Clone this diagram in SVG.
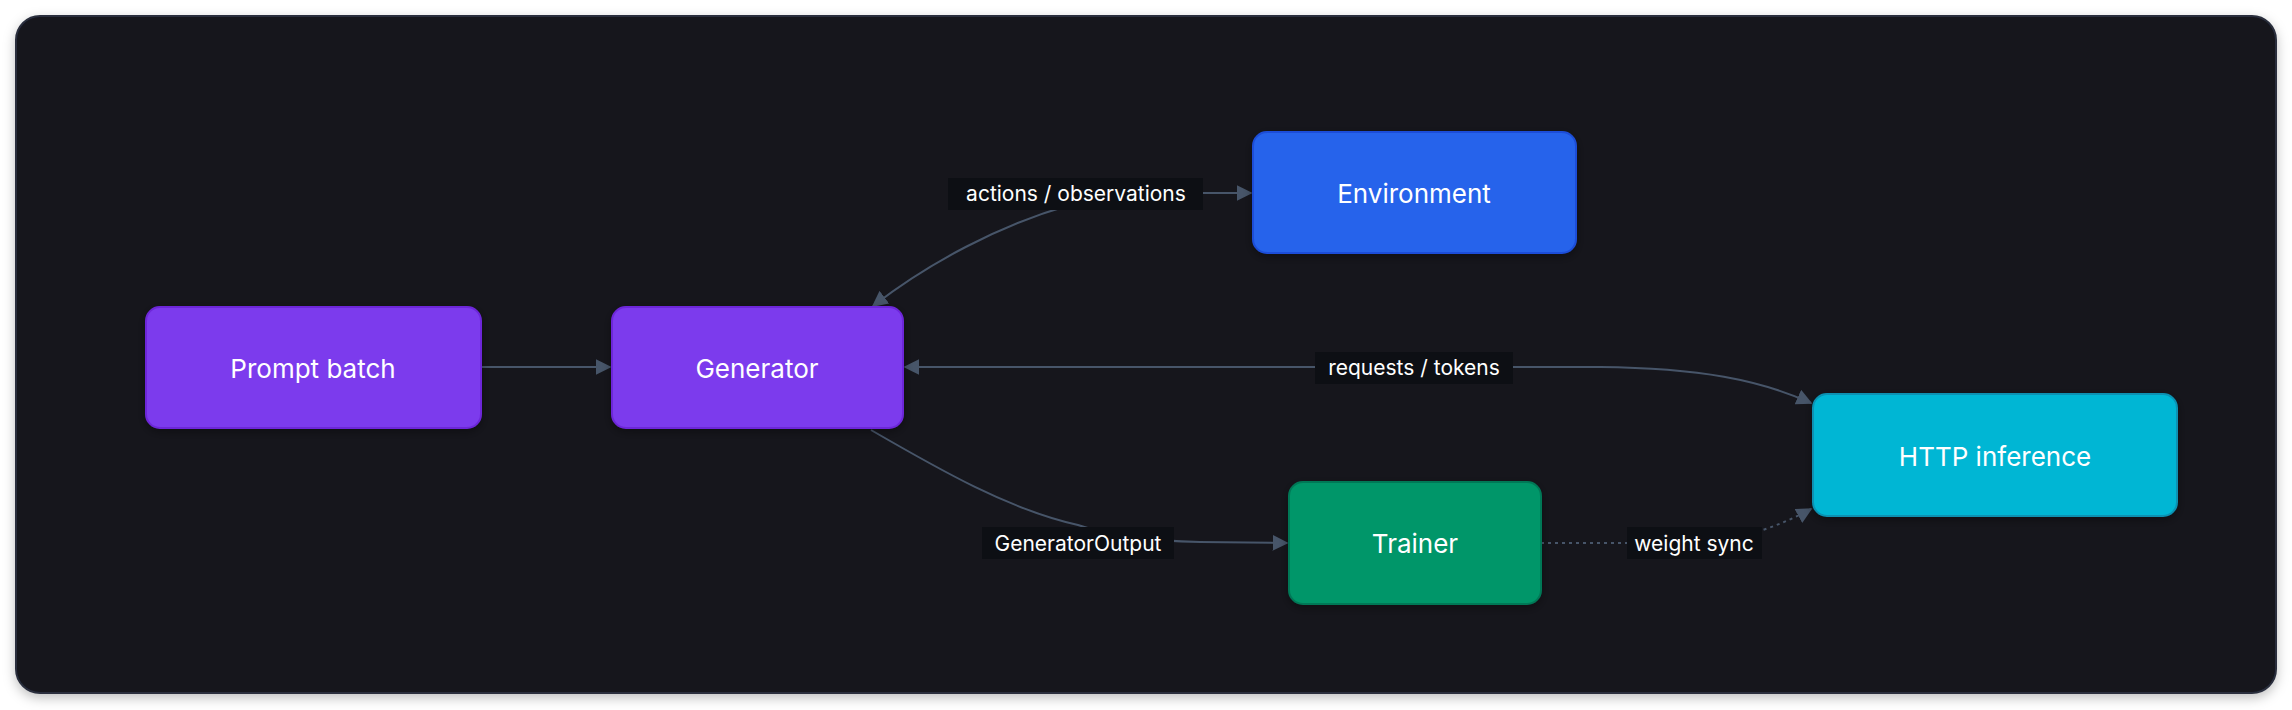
<svg xmlns="http://www.w3.org/2000/svg" width="2292" height="710" viewBox="0 0 2292 710">
<defs>
<filter id="sh" x="-5%" y="-10%" width="110%" height="125%"><feDropShadow dx="0" dy="4" stdDeviation="6" flood-color="#000" flood-opacity="0.25"/></filter>
<filter id="ns" x="-10%" y="-10%" width="120%" height="130%"><feDropShadow dx="0" dy="3" stdDeviation="5" flood-color="#000" flood-opacity="0.35"/></filter>
<marker id="ah" viewBox="0 0 10 10" refX="9" refY="5" markerWidth="8" markerHeight="8" markerUnits="userSpaceOnUse" orient="auto-start-reverse"><path d="M0,0 L10,5 L0,10 z" fill="#475569"/></marker>
<marker id="a" viewBox="0 0 10 10" refX="9" refY="5" markerWidth="16" markerHeight="16" markerUnits="userSpaceOnUse" orient="auto-start-reverse"><path d="M0,0 L10,5 L0,10 z" fill="#475569"/></marker>
</defs>
<style>
.n{stroke-width:2}
.t{font-family:Inter,"Liberation Sans",sans-serif;font-size:26px;fill:#fff;text-anchor:middle;dominant-baseline:central}
.l{font-family:Inter,"Liberation Sans",sans-serif;font-size:21px;fill:#fff;text-anchor:middle;dominant-baseline:central}
.lb{fill:#0d0f14}
.e{fill:none;stroke:#475569;stroke-width:2}
</style>
<rect width="2292" height="710" fill="#fff"/>
<rect x="16" y="16" width="2260" height="677" rx="24" fill="#12141e" stroke="#2a2f3c" stroke-width="2" filter="url(#sh)"/>
<g id="connectors">
<path class="e" d="M481,367 H610" marker-end="url(#a)"/>
<path class="e" d="M873,306 C930,262 1000,225 1070,205 L1100,193 H1251" marker-start="url(#a)" marker-end="url(#a)"/>
<path class="e" d="M905,367 H1600 C1700,368 1760,380 1811,403" marker-start="url(#a)" marker-end="url(#a)"/>
<path class="e" d="M871,430 C940,470 1010,510 1078,525 C1110,536 1150,541 1200,542 L1287,543" marker-end="url(#a)"/>
<path class="e" d="M1541,543 H1700 C1740,540 1780,526 1811,509" stroke-dasharray="3,4" marker-end="url(#a)"/>
<rect class="lb" x="948" y="178" width="255" height="32"/>
<text class="l" x="1076" y="193">actions / observations</text>
<rect class="lb" x="1315" y="352" width="198" height="32"/>
<text class="l" x="1414" y="367">requests / tokens</text>
<rect class="lb" x="982" y="527" width="192" height="32"/>
<text class="l" x="1078" y="543">GeneratorOutput</text>
<rect class="lb" x="1627" y="527" width="135" height="32"/>
<text class="l" x="1694" y="543">weight sync</text>
</g>
<g id="prompt"><rect class="n" x="146" y="307" width="335" height="121" rx="14" fill="#7c3aed" stroke="#6d28d9" filter="url(#ns)"/><text class="t" x="313" y="368">Prompt batch</text></g>
<g id="generator"><rect class="n" x="612" y="307" width="291" height="121" rx="14" fill="#7c3aed" stroke="#6d28d9" filter="url(#ns)"/><text class="t" x="757" y="368">Generator</text></g>
<g id="environment"><rect class="n" x="1253" y="132" width="323" height="121" rx="14" fill="#2563eb" stroke="#1d4ed8" filter="url(#ns)"/><text class="t" x="1414" y="193">Environment</text></g>
<g id="http"><rect class="n" x="1813" y="394" width="364" height="122" rx="14" fill="#06b6d4" stroke="#0891b2" filter="url(#ns)"/><text class="t" x="1995" y="456">HTTP inference</text></g>
<g id="trainer"><rect class="n" x="1289" y="482" width="252" height="122" rx="14" fill="#059669" stroke="#047857" filter="url(#ns)"/><text class="t" x="1415" y="543">Trainer</text></g>
</svg>
